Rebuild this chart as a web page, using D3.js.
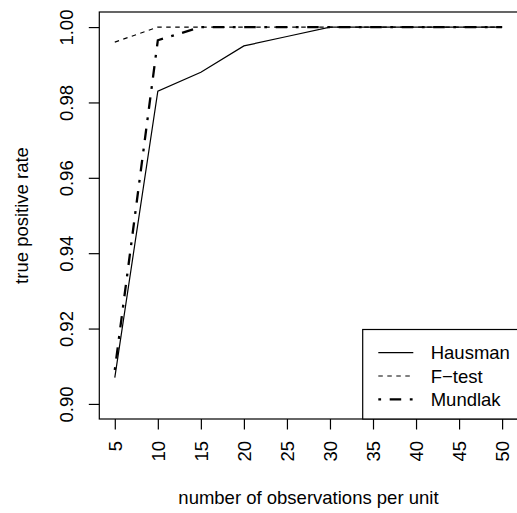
<!DOCTYPE html>
<html>
<head>
<meta charset="utf-8">
<script src="https://cdn.jsdelivr.net/npm/d3@7"></script>
<style>
  body { margin: 0; background: #fff; }
  text { font-family: "Liberation Sans", Arial, Helvetica, sans-serif; }
</style>
</head>
<body>
<div id="chart-area"></div>
<script>
// data
var obs = [5, 10, 15, 20, 25, 30, 35, 40, 45, 50];
var hausman = [0.907, 0.983, 0.988, 0.995, 0.9975, 1, 1, 1, 1, 1];
var ftest   = [0.996, 1, 1, 1, 1, 1, 1, 1, 1, 1];
var mundlak = [0.909, 0.9965, 1, 1, 1, 1, 1, 1, 1, 1];
var yTicks = [0.90, 0.92, 0.94, 0.96, 0.98, 1.00];
var seriesNames = ["Hausman", "F\u2212test", "Mundlak"];

var W = 517, H = 513;
var margin = { left: 99.3, right: 517.6, top: 12, bottom: 419 };
var fs = "18.5px";

var svg = d3.select("#chart-area")
    .append("svg")
        .attr("width", W)
        .attr("height", H);

// X Scale
var x = d3.scaleLinear()
    .domain([3.2, 51.8])
    .range([margin.left, margin.right]);

// Y Scale
var y = d3.scaleLinear()
    .domain([0.896, 1.004])
    .range([margin.bottom, margin.top]);

var styles = [
    { width: 1.2, dash: null },
    { width: 1.2, dash: "4.5,4.5" },
    { width: 2.3, dash: "2.8,8.6,11.5,8.6" }
];
var series = [hausman, ftest, mundlak];

var line = d3.line()
    .x(function(d, i){ return x(obs[i]); })
    .y(function(d){ return y(d); });

series.forEach(function(s, k){
    svg.append("path")
        .datum(s)
        .attr("d", line)
        .attr("fill", "none")
        .attr("stroke", "#000")
        .attr("stroke-width", styles[k].width)
        .attr("stroke-dasharray", styles[k].dash);
});

// box
svg.append("rect")
    .attr("x", margin.left)
    .attr("y", margin.top)
    .attr("width", margin.right - margin.left)
    .attr("height", margin.bottom - margin.top)
    .attr("fill", "none")
    .attr("stroke", "#000")
    .attr("stroke-width", 1.2);

// Y Axis
var yAxis = svg.append("g")
    .attr("transform", "translate(" + margin.left + ",0)")
    .call(d3.axisLeft(y).tickValues(yTicks).tickSize(10.5).tickFormat(d3.format(".2f")));
yAxis.select(".domain").remove();
yAxis.selectAll("line").attr("stroke-width", 1.2);
yAxis.selectAll("text")
    .attr("x", null).attr("dy", null)
    .attr("text-anchor", "middle")
    .attr("font-size", fs)
    .attr("fill", "#000")
    .attr("transform", "translate(-26.8,0) rotate(-90)");

// X Axis
var xAxis = svg.append("g")
    .attr("transform", "translate(0," + margin.bottom + ")")
    .call(d3.axisBottom(x).tickValues(obs).tickSize(10.5));
xAxis.select(".domain").remove();
xAxis.selectAll("line").attr("stroke-width", 1.2);
xAxis.selectAll("text")
    .attr("y", null).attr("dy", null)
    .attr("text-anchor", "end")
    .attr("font-size", fs)
    .attr("fill", "#000")
    .attr("transform", "translate(6.5,22) rotate(-90)");

// X Label
svg.append("text")
    .attr("x", (margin.left + margin.right) / 2)
    .attr("y", 504)
    .attr("font-size", fs)
    .attr("text-anchor", "middle")
    .text("number of observations per unit");

// Y Label
svg.append("text")
    .attr("transform", "translate(28," + ((margin.top + margin.bottom) / 2) + ") rotate(-90)")
    .attr("font-size", fs)
    .attr("text-anchor", "middle")
    .text("true positive rate");

// Legend
var lg = svg.append("g");
lg.append("rect")
    .attr("x", 362.7)
    .attr("y", 329.5)
    .attr("width", margin.right - 362.7)
    .attr("height", margin.bottom - 329.5)
    .attr("fill", "#fff")
    .attr("stroke", "#000")
    .attr("stroke-width", 1.2);

seriesNames.forEach(function(name, k){
    var ly = 352.7 + k * 23.3;
    lg.append("line")
        .attr("x1", 378.3).attr("x2", 413.3)
        .attr("y1", ly).attr("y2", ly)
        .attr("stroke", "#000")
        .attr("stroke-width", styles[k].width)
        .attr("stroke-dasharray", styles[k].dash);
    lg.append("text")
        .attr("x", 430.7)
        .attr("y", ly + 6.5)
        .attr("font-size", fs)
        .text(name);
});
</script>
</body>
</html>
